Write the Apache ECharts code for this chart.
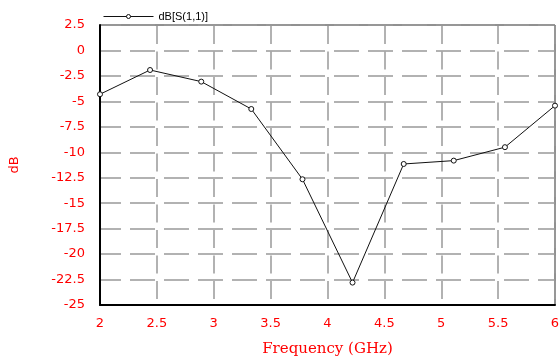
<!DOCTYPE html>
<html>
<head>
<meta charset="utf-8">
<script src="https://cdn.jsdelivr.net/npm/echarts@6/dist/echarts.min.js"></script>
<style>
html,body{margin:0;padding:0;background:#fff;}
#chart{width:559px;height:359px;}
</style>
</head>
<body>
<div id="chart"></div>
<script>
var freq = [2.0, 2.44, 2.89, 3.33, 3.78, 4.22, 4.67, 5.11, 5.56, 6.0];
var s11 = [-4.3, -1.92, -3.06, -5.75, -12.65, -22.8, -11.15, -10.82, -9.5, -5.42];
var seriesName = 'dB[S(1,1)]';
var xTitle = 'Frequency (GHz)';
var yTitle = 'dB';

var chart = echarts.init(document.getElementById('chart'), null, {renderer: 'canvas'});
var red = '#ff0000';
chart.setOption({
  animation: false,
  backgroundColor: '#fff',
  grid: {left: 100, right: 4, top: 25, bottom: 54, show: true, borderColor: '#222', borderWidth: 1,
         backgroundColor: 'transparent', containLabel: false, outerBoundsMode: 'none'},
  legend: {
    left: 98, top: 6, itemWidth: 50, itemHeight: 5, itemGap: 7,
    textStyle: {fontFamily: 'Liberation Sans', fontSize: 11, color: '#000'},
    lineStyle: {width: 1, color: '#111'},
    itemStyle: {color: '#fff', borderColor: '#111', borderWidth: 1},
    data: [seriesName]
  },
  xAxis: {
    type: 'value', min: 2, max: 6, interval: 0.5,
    name: xTitle, nameLocation: 'middle', nameGap: 37,
    nameTextStyle: {fontFamily: 'DejaVu Serif', fontSize: 15, color: red},
    axisLine: {show: true, onZero: false, lineStyle: {color: '#000', width: 2}},
    axisTick: {show: false},
    axisLabel: {color: red, fontFamily: 'DejaVu Sans', fontSize: 13, margin: 12},
    splitLine: {show: true, lineStyle: {color: '#999', width: 1.5, type: [18, 7.5], dashOffset: -1}}
  },
  yAxis: {
    type: 'value', min: -25, max: 2.5, interval: 2.5,
    name: yTitle, nameLocation: 'middle', nameGap: 79,
    nameTextStyle: {fontFamily: 'DejaVu Sans', fontSize: 13, color: red},
    axisLine: {show: true, onZero: false, lineStyle: {color: '#000', width: 2}},
    axisTick: {show: false},
    axisLabel: {color: red, fontFamily: 'DejaVu Sans', fontSize: 13, margin: 15},
    splitLine: {show: true, lineStyle: {color: '#999', width: 1.5, type: [25, 9], dashOffset: 4}}
  },
  series: [{
    name: seriesName,
    type: 'line',
    data: freq.map(function (f, i) { return [f, s11[i]]; }),
    symbol: 'circle', symbolSize: 5, showAllSymbol: true,
    clip: false,
    lineStyle: {color: '#111', width: 1},
    itemStyle: {color: '#fff', borderColor: '#111', borderWidth: 1}
  }]
});
</script>
</body>
</html>
